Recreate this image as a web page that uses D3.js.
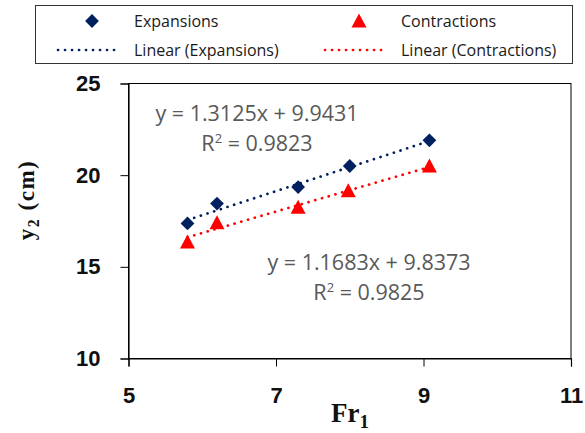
<!DOCTYPE html>
<html><head><meta charset="utf-8">
<script src="https://cdn.jsdelivr.net/npm/d3@7"></script>
<style>
html,body{margin:0;padding:0;background:#fff;}
svg{display:block;}
</style></head>
<body>
<svg id="chart" width="585" height="433"></svg>
<script>
// ---- data ----
const expansionsFr = [5.8, 6.2, 7.3, 8.0, 9.08];
const expansionsY2 = [17.37, 18.45, 19.35, 20.5, 21.9];
const contractionsFr = [5.8, 6.2, 7.3, 7.98, 9.08];
const contractionsY2 = [16.35, 17.4, 18.25, 19.15, 20.5];
const trendSlopes = [1.3125, 1.1683];
const trendIntercepts = [9.9431, 9.8373];
const trendR2 = ["0.9823", "0.9825"];
const xTicks = [5, 7, 9, 11];
const yTicks = [10, 15, 20, 25];
const seriesNames = ["Expansions", "Contractions"];
const seriesColors = ["#002060", "#ff0000"];

const svg = d3.select("#chart");
const x = d3.scaleLinear().domain([5, 11]).range([128.5, 571]);
const y = d3.scaleLinear().domain([10, 25]).range([358.5, 83.5]);

// plot border
svg.append("rect").attr("x", x(5)).attr("y", y(25))
  .attr("width", x(11) - x(5)).attr("height", y(10) - y(25))
  .attr("fill", "none").attr("stroke", "#000").attr("stroke-width", 1);

// axes
const xAxis = svg.append("g").attr("transform", `translate(0,${y(10)})`)
  .call(d3.axisBottom(x).tickValues(xTicks).tickSize(8).tickPadding(21).tickFormat(d3.format("d")));
const yAxis = svg.append("g").attr("transform", `translate(${x(5)},0)`)
  .call(d3.axisLeft(y).tickValues(yTicks).tickSize(8).tickPadding(20).tickFormat(d3.format("d")));
[xAxis, yAxis].forEach(g => {
  g.select(".domain").attr("stroke", "#000").attr("stroke-width", 1.2);
  g.selectAll(".tick line").attr("stroke", "#000").attr("stroke-width", 1);
  g.selectAll("text").attr("fill", "#111").attr("font-family", "'Liberation Sans', Arial, sans-serif")
    .attr("font-weight", "bold").attr("font-size", 22);
});

// trend lines
const series = [
  {xs: expansionsFr, ys: expansionsY2},
  {xs: contractionsFr, ys: contractionsY2}
];
series.forEach((s, i) => {
  const x0 = d3.min(s.xs), x1 = d3.max(s.xs);
  svg.append("line")
    .attr("x1", x(x0)).attr("y1", y(trendSlopes[i] * x0 + trendIntercepts[i]))
    .attr("x2", x(x1)).attr("y2", y(trendSlopes[i] * x1 + trendIntercepts[i]))
    .attr("stroke", seriesColors[i]).attr("stroke-width", 2.7)
    .attr("stroke-linecap", "round").attr("stroke-dasharray", "0.1 6.9");
});

// markers
const diamond = d3.symbol().type(d3.symbolSquare).size(95)();
const tri = "M0,-7.5 L7.5,6.5 L-7.5,6.5 Z";
svg.append("g").selectAll("path").data(d3.zip(expansionsFr, expansionsY2)).join("path")
  .attr("d", diamond)
  .attr("transform", d => `translate(${x(d[0])},${y(d[1])}) rotate(45)`)
  .attr("fill", seriesColors[0]);
svg.append("g").selectAll("path").data(d3.zip(contractionsFr, contractionsY2)).join("path")
  .attr("d", tri)
  .attr("transform", d => `translate(${x(d[0])},${y(d[1])})`)
  .attr("fill", seriesColors[1]);

// equation labels
const eqPos = [[257, 121], [369, 270]];
eqPos.forEach((p, i) => {
  const t = svg.append("text").attr("x", p[0]).attr("y", p[1])
    .attr("text-anchor", "middle").attr("fill", "#595959")
    .attr("font-family", "'Open Sans', sans-serif").attr("font-size", 21.5);
  t.text(`y = ${trendSlopes[i]}x + ${trendIntercepts[i]}`);
  const r = svg.append("text").attr("x", p[0]).attr("y", p[1] + 30)
    .attr("text-anchor", "middle").attr("fill", "#595959")
    .attr("font-family", "'Open Sans', sans-serif").attr("font-size", 21.5);
  r.append("tspan").text("R");
  r.append("tspan").attr("dy", -8).attr("font-size", 13).text("2");
  r.append("tspan").attr("dy", 8).text(` = ${trendR2[i]}`);
});

// axis titles
svg.append("text").attr("x", 350).attr("y", 422).attr("text-anchor", "middle")
  .attr("font-family", "'Liberation Serif', 'Times New Roman', serif").attr("font-weight", "bold")
  .attr("font-size", 27).attr("fill", "#111")
  .call(t => { t.append("tspan").text("Fr"); t.append("tspan").attr("font-size", 19).attr("dy", 6).text("1"); });
svg.append("text").attr("transform", "translate(34,200) rotate(-90)").attr("text-anchor", "middle")
  .attr("font-family", "'Liberation Serif', 'Times New Roman', serif").attr("font-weight", "bold")
  .attr("font-size", 23).attr("fill", "#111").attr("letter-spacing", 1.5)
  .call(t => {
    t.append("tspan").text("y");
    t.append("tspan").attr("font-size", 16).attr("dy", 5).text("2");
    t.append("tspan").attr("dy", -5).text(" (cm)");
  });

// legend
const lg = svg.append("g");
lg.append("rect").attr("x", 35.5).attr("y", 5.5).attr("width", 537).attr("height", 58)
  .attr("fill", "#fff").attr("stroke", "#333").attr("stroke-width", 1);
const colX = [0, 267];
seriesNames.forEach((name, i) => {
  const ox = colX[i];
  if (i === 0) {
    lg.append("path").attr("d", diamond).attr("transform", `translate(${92 + ox},21) rotate(45)`).attr("fill", seriesColors[0]);
  } else {
    lg.append("path").attr("d", tri).attr("transform", `translate(${92 + ox},21)`).attr("fill", seriesColors[1]);
  }
  lg.append("line").attr("x1", 58 + ox).attr("x2", 118 + ox).attr("y1", 50).attr("y2", 50)
    .attr("stroke", seriesColors[i]).attr("stroke-width", 2.7)
    .attr("stroke-linecap", "round").attr("stroke-dasharray", "0.1 6.9");
  lg.append("text").attr("x", 134 + ox).attr("y", 21).attr("dy", "0.35em")
    .attr("font-family", "'Open Sans', sans-serif").attr("font-size", 16).attr("fill", "#1a1a1a").text(name);
  lg.append("text").attr("x", 134 + ox).attr("y", 50).attr("dy", "0.35em")
    .attr("font-family", "'Open Sans', sans-serif").attr("font-size", 16).attr("fill", "#1a1a1a").text(`Linear (${name})`);
});
</script>
</body></html>
